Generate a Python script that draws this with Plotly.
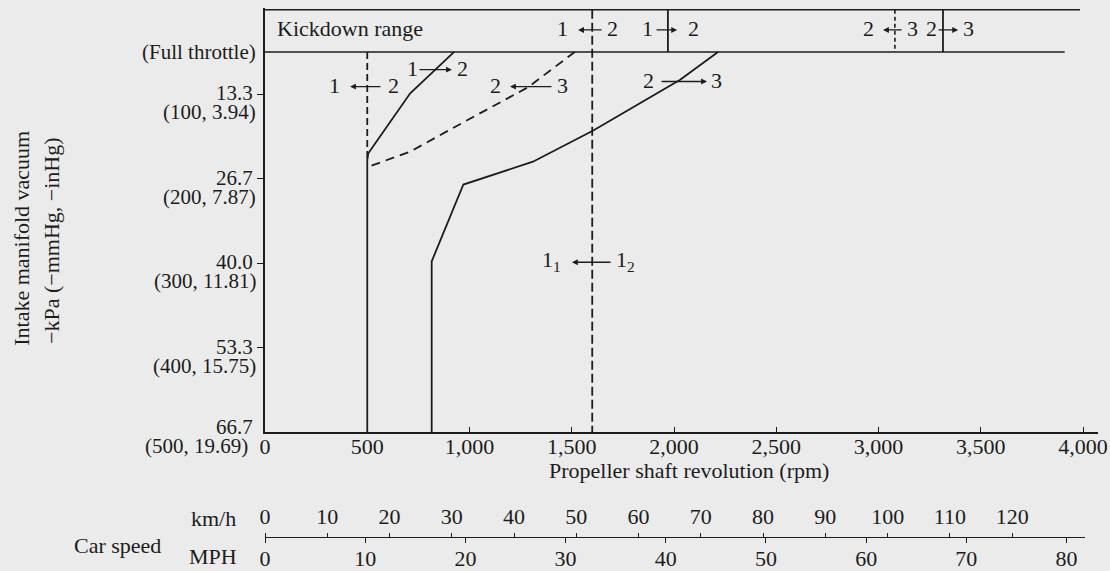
import plotly.graph_objects as go

# ---------------------------------------------------------------------------
# Shift pattern: propeller shaft speed (rpm) vs. intake manifold vacuum (mmHg)
# ---------------------------------------------------------------------------
up12_rpm = [925, 710, 505, 500, 500]
up12_vac = [50, 99, 170, 178, 500]

kd21_rpm = [500, 500]
kd21_vac = [50, 178]

down32_rpm = [1515, 1285, 965, 710, 505]
down32_vac = [50, 92, 134, 168, 186]

up23_rpm = [2215, 2030, 1605, 1310, 970, 815, 815]
up23_vac = [50, 83, 143, 180, 207, 298, 500]

low_rpm = [1600, 1600]
low_vac = [0, 500]

# kickdown band (0 .. full throttle) and its shift points
full_throttle_vac = 50
band_top_rpm = [0, 3985]
band_bottom_rpm = [0, 3910]
kd12_up_rpm = 1970
kd23_down_rpm = 3080
kd23_up_rpm = 3315

# axis ticks
rpm_ticks = [0, 500, 1000, 1500, 2000, 2500, 3000, 3500, 4000]
rpm_ticktext = ["0", "500", "1,000", "1,500", "2,000", "2,500", "3,000", "3,500", "4,000"]
vac_ticks = [100, 200, 300, 400, 500]
kpa_text = ["13.3", "26.7", "40.0", "53.3", "66.7"]
mmhg_inhg_text = ["(100, 3.94)", "(200, 7.87)", "(300, 11.81)", "(400, 15.75)", "(500, 19.69)"]
kmh_ticks = [0, 10, 20, 30, 40, 50, 60, 70, 80, 90, 100, 110, 120]
mph_ticks = [0, 10, 20, 30, 40, 50, 60, 70, 80]

# shift-direction markers: left label, its rpm, right label, its rpm, vacuum, arrow tail rpm, arrow head rpm
shift_marks = [
    ("1", 1457, "2", 1697, 24, 1653, 1531),
    ("1", 1868, "2", 2093, 24, 1907, 2015),
    ("2", 2949, "3", 3164, 24, 3120, 3022),
    ("2", 3257, "3", 3438, 24, 3286, 3389),
    ("1", 342, "2", 626, 91, 572, 416),
    ("1", 719, "2", 968, 71, 748, 914),
    ("2", 1125, "3", 1457, 91, 1408, 1198),
    ("2", 1873, "3", 2210, 85, 1932, 2161),
    ("1<sub>1</sub>", 1399, "1<sub>2</sub>", 1765, 299, 1697, 1501),
]

INK = "#1c1c1c"
PAPER = "#ebebeb"
FONT = "Liberation Serif"
FS = 22

fig = go.Figure()


def line(x, y, dash="solid", width=1.8):
    fig.add_trace(go.Scatter(x=x, y=y, mode="lines", hoverinfo="skip", showlegend=False,
                             line=dict(color=INK, width=width, dash=dash)))


# kickdown band borders
line(band_top_rpm, [0, 0], width=1.5)
line(band_bottom_rpm, [full_throttle_vac, full_throttle_vac], width=1.5)
line([kd12_up_rpm, kd12_up_rpm], [0, full_throttle_vac], width=1.8)
line([kd23_down_rpm, kd23_down_rpm], [0, full_throttle_vac], dash="4px,3px", width=1.6)
line([kd23_up_rpm, kd23_up_rpm], [0, full_throttle_vac], width=1.8)

# shift lines
line(up12_rpm, up12_vac)
line(kd21_rpm, kd21_vac, dash="7px,4px")
line(down32_rpm, down32_vac, dash="9px,6px")
line(up23_rpm, up23_vac)
line(low_rpm, low_vac, dash="9px,4px")

# car speed scales (axes only)
fig.add_trace(go.Scatter(x=kmh_ticks, y=[None] * len(kmh_ticks), xaxis="x2", yaxis="y",
                         mode="markers", hoverinfo="skip", showlegend=False))
fig.add_trace(go.Scatter(x=mph_ticks, y=[None] * len(mph_ticks), xaxis="x3", yaxis="y",
                         mode="markers", hoverinfo="skip", showlegend=False))

annotations = []
txt = dict(family=FONT, size=FS, color=INK)
ytxt = dict(family=FONT, size=21, color=INK)

for left, lx, right, rx, vac, tail, head in shift_marks:
    annotations.append(dict(x=lx, y=vac, xref="x", yref="y", text=left, showarrow=False,
                            font=txt, yshift=1))
    annotations.append(dict(x=rx, y=vac, xref="x", yref="y", text=right, showarrow=False,
                            font=txt, yshift=1))
    annotations.append(dict(x=head, y=vac, xref="x", yref="y", ax=tail, ay=vac,
                            axref="x", ayref="y", text="", showarrow=True,
                            arrowhead=2, arrowsize=0.9, arrowwidth=1.3, arrowcolor=INK))

annotations.append(dict(x=0.012, y=24, xref="paper", yref="y", text="Kickdown range",
                        xanchor="left", yanchor="middle", showarrow=False, font=txt, yshift=1))

# vacuum scale labels: kPa on the tick, (mmHg, inHg) just below it
for v, kpa, par in zip(vac_ticks, kpa_text, mmhg_inhg_text):
    last = v == vac_ticks[-1]
    base = 5 if last else 1
    annotations.append(dict(x=0, y=v, xref="paper", yref="y", text=kpa, xanchor="right",
                            yanchor="middle", xshift=-10, yshift=base, showarrow=False,
                            font=ytxt))
    annotations.append(dict(x=0, y=v, xref="paper", yref="y", text=par, xanchor="right",
                            yanchor="middle", xshift=-15 if last else -7, yshift=base - 19,
                            showarrow=False, font=ytxt))
annotations.append(dict(x=0, y=full_throttle_vac, xref="paper", yref="y", text="(Full throttle)",
                        xanchor="right", yanchor="middle", xshift=-7, showarrow=False, font=ytxt))


def label(x, y, text, angle=0):
    annotations.append(dict(x=x, y=y, xref="paper", yref="paper", text=text, textangle=angle,
                            xanchor="center", yanchor="middle", showarrow=False, font=txt))


# axis titles
label(-0.2917, 0.567, "Intake manifold vacuum", -90)
label(-0.2557, 0.563, "−kPa (−mmHg, −inHg)", -90)
label(0.509, 0.133, "Propeller shaft revolution (rpm)")
label(-0.0624, 0.043, "km/h")
label(-0.0624, -0.030, "MPH")
label(-0.1765, -0.009, "Car speed")

axis_common = dict(showgrid=False, zeroline=False, showline=True, linecolor=INK,
                   tickcolor=INK, tickfont=txt, automargin=False, fixedrange=True)

fig.update_layout(
    width=1110, height=571,
    margin=dict(l=265, r=12, t=8, b=30),
    paper_bgcolor=PAPER, plot_bgcolor="rgba(0,0,0,0)",
    showlegend=False,
    annotations=annotations,
    xaxis=dict(range=[0, 4073], domain=[0, 1], anchor="y", tickvals=rpm_ticks,
               ticktext=rpm_ticktext, ticks="inside", ticklen=5, linewidth=1.6,
               ticklabelstandoff=-6, **axis_common),
    yaxis=dict(range=[500, -2], domain=[0.2045, 1], anchor="x", tickvals=vac_ticks[:-1],
               showticklabels=False, ticks="outside", ticklen=6, linewidth=1.6, **axis_common),
    xaxis2=dict(range=[0, 131.7], domain=[0, 0.9844], anchor="free", position=0.0075,
                side="top", tickvals=kmh_ticks, ticks="outside", ticklen=4, linewidth=1.4,
                **axis_common),
    xaxis3=dict(range=[0, 81.84], domain=[0, 0.9844], anchor="free", position=0.0075,
                side="bottom", tickvals=mph_ticks, ticks="outside", ticklen=5, linewidth=1.4,
                ticklabelstandoff=-4, **axis_common),
)

fig.write_html("out.html")
